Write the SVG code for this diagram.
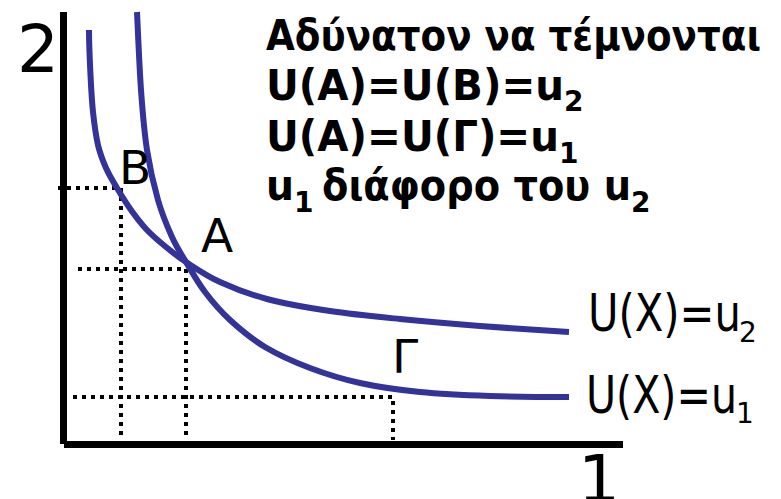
<svg xmlns="http://www.w3.org/2000/svg" width="781" height="499" viewBox="0 0 781 499">
<style>
.ax{stroke:#000;stroke-width:7;fill:none}
.dot{stroke:#000;stroke-width:4;stroke-dasharray:4 5;fill:none}
.cv{stroke:#333399;stroke-width:6;fill:none}
.lb{font-family:"DejaVu Sans",sans-serif;fill:#000}
.bd{font-family:"DejaVu Sans",sans-serif;font-weight:bold;fill:#000}
</style>
<rect width="781" height="499" fill="#fff"/>
<g id="axes">
<line class="ax" x1="63.5" y1="12" x2="63.5" y2="444"/>
<line class="ax" x1="64" y1="444.5" x2="623" y2="444.5"/>
</g>
<g id="guides">
<polyline class="dot" points="58,188 121,188 121,440"/>
<polyline class="dot" points="78,269 186,269 186,440"/>
<polyline class="dot" points="73,397 393,397 393,440"/>
</g>
<g id="curves">
<path id="curve-u2" class="cv" d="M89,30 C89,45 89.83,61.33 90.5,75 C91.17,88.67 91.75,100.33 93,112 C94.25,123.67 95.83,135.67 98,145 C100.17,154.33 102.83,160.83 106,168 C109.17,175.17 112.83,181 117,188 C121.17,195 126,203 131,210 C136,217 141.17,223.83 147,230 C152.83,236.17 159.5,241.67 166,247 C172.5,252.33 177,256.17 186,262 C195,267.83 206.5,275.83 220,282 C233.5,288.17 248.67,294.17 267,299 C285.33,303.83 307.83,307.67 330,311 C352.17,314.33 375,316.5 400,319 C425,321.5 451.83,323.83 480,326 C508.17,328.17 554.17,331 569,332"/>
<path id="curve-u1" class="cv" d="M137,12 C137.67,25 139.33,67 141,90 C142.67,113 144.17,131.67 147,150 C149.83,168.33 153.83,185.5 158,200 C162.17,214.5 167.33,226.67 172,237 C176.67,247.33 180.5,252.83 186,262 C191.5,271.17 197.67,282.33 205,292 C212.33,301.67 220,310.83 230,320 C240,329.17 251.67,339 265,347 C278.33,355 294.17,362 310,368 C325.83,374 341.67,379 360,383 C378.33,387 398.33,389.83 420,392 C441.67,394.17 465.17,395.17 490,396 C514.83,396.83 555.83,397 569,397"/>
</g>
<g id="axis-labels">
<text class="lb" x="17" y="72" font-size="66">2</text>
<text class="lb" x="578" y="502" font-size="66">1</text>
</g>
<g id="point-labels">
<text class="lb" x="119" y="184" font-size="47">B</text>
<text class="lb" x="201" y="252" font-size="47">A</text>
<text class="lb" x="392" y="373" font-size="47">Γ</text>
</g>
<g id="curve-labels">
<text class="lb" x="588" y="331" font-size="51" textLength="153" lengthAdjust="spacingAndGlyphs">U(X)=u</text>
<text class="lb" x="739" y="342" font-size="28">2</text>
<text class="lb" x="586" y="413" font-size="51" textLength="151" lengthAdjust="spacingAndGlyphs">U(X)=u</text>
<text class="lb" x="736" y="423" font-size="28">1</text>
</g>
<g id="statement">
<text class="bd" x="266" y="50" font-size="42" textLength="495" lengthAdjust="spacingAndGlyphs">Αδύνατον να τέμνονται</text>
<text class="bd" x="266" y="100" font-size="42" textLength="298" lengthAdjust="spacingAndGlyphs">U(A)=U(B)=u</text>
<text class="bd" x="564" y="111" font-size="28">2</text>
<text class="bd" x="266" y="151" font-size="42" textLength="293" lengthAdjust="spacingAndGlyphs">U(A)=U(Γ)=u</text>
<text class="bd" x="559" y="163" font-size="28">1</text>
<text class="bd" x="266" y="200" font-size="42" textLength="28" lengthAdjust="spacingAndGlyphs">u</text>
<text class="bd" x="294" y="212" font-size="28">1</text>
<text class="bd" x="322" y="200" font-size="42" textLength="309" lengthAdjust="spacingAndGlyphs">διάφορο του u</text>
<text class="bd" x="631" y="212" font-size="28">2</text>
</g>
</svg>
